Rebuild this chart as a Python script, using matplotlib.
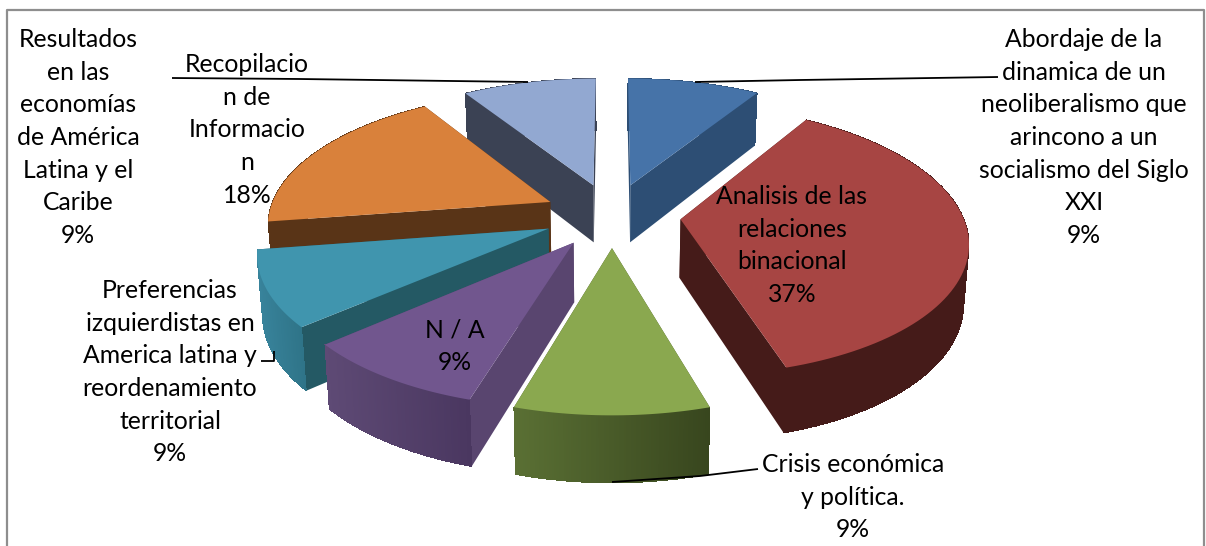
import numpy as np
import matplotlib
matplotlib.use('Agg')
import matplotlib.pyplot as plt
from matplotlib.colors import to_rgb

# slices clockwise from 12 o'clock
labels = ['Abordaje de la\ndinamica de un\nneoliberalismo que\narincono a un\nsocialismo del Siglo\nXXI',
          'Analisis de las\nrelaciones\nbinacional',
          'Crisis económica\ny política.',
          'N / A',
          'Preferencias\nizquierdistas en\nAmerica latina y\nreordenamiento\nterritorial',
          'Recopilacio\nn de\nInformacio\nn',
          'Resultados\nen las\neconomías\nde América\nLatina y el\nCaribe']
# percentages, they round to the printed labels
values = [8.9, 36.51, 9.19, 9.0, 9.0, 18.4, 9.0]

top_colors = ['#4673A8', '#A74543', '#8AA84F', '#71568E', '#4095AE', '#D9813B', '#92A8D1']
wall_colors = ['#2D4E74', '#451B19', '#48582A', '#59456F', '#245964', '#593417', '#3B4254']
side_left = ['#2D4E74', '#451B19', '#5A7034', '#5E4A75', '#38839B', '#593417', '#3B4254']
side_right = ['#2D4E74', '#451B19', '#38461E', '#4A3760', '#2F7488', '#593417', '#3B4254']

# label centres in pixels (x, y of first line top)
label_x = [1084, 792, 853, 455, 170, 247, 78]
label_y = [28, 185, 453, 318, 279, 53, 28]

# leader lines in pixels
leaders = [([695, 800, 998], [82, 80, 77]),
           ([612, 700, 758], [482, 476, 469]),
           ([528, 300, 172], [82, 79, 78]),
           ([261, 274, 274], [361, 361, 351])]

# perspective model of the pie, tuned by eye against the picture
cx, cy = 612, 215
rx, ry = 282, 131
persp = 0.15
depth = 58.4
explode = 0.244


def project(u, v, drop=0.0):
    w = 1 + persp * v
    x = rx * u / w * (1 - 0.015 * drop)
    return cx + x, cy - ry * v / w + drop * depth / w ** 0.7


def side_quad(u, v, color, order):
    # outline first so the seams between the strips stay hidden
    x0, y0 = project(u, v)
    x1, y1 = project(u, v, 1)
    base = color[len(color) // 2] if isinstance(color, list) else color
    ax.fill(np.r_[x0, x1[::-1]], np.r_[y0, y1[::-1]], color=base, lw=0, zorder=order)
    if not isinstance(color, list):
        return
    for k in range(len(x0) - 1):
        ax.fill([x0[k], x0[k + 1], x1[k + 1], x1[k]], [y0[k], y0[k + 1], y1[k + 1], y1[k]],
                facecolor=color[k], edgecolor='none', lw=0, antialiased=False, zorder=order)


fig = plt.figure(figsize=(12.06, 5.46), dpi=100)
ax = fig.add_axes([0, 0, 1, 1])
ax.set_xlim(0, 1206)
ax.set_ylim(546, 0)
ax.axis('off')

plt.rcParams['font.family'] = ['Lato', 'DejaVu Sans']

# chart frame, open at the bottom edge
ax.plot([6.5, 6.5, 1204, 1204], [546, 10, 10, 546], color='#8E8E8E', lw=1.6, zorder=0)

edges = np.cumsum([0] + values) / sum(values) * 2 * np.pi
mids = (edges[:-1] + edges[1:]) / 2

# back slices first so the nearer ones cover them
for order, i in enumerate(np.argsort(-np.cos(mids))):
    order = order + 1
    a = np.linspace(edges[i], edges[i + 1], 80)
    ou, ov = explode * np.sin(mids[i]), explode * np.cos(mids[i])
    u, v = ou + np.sin(a), ov + np.cos(a)

    side_quad(np.array([ou, u[0]]), np.array([ov, v[0]]), wall_colors[i], order)
    side_quad(np.array([ou, u[-1]]), np.array([ov, v[-1]]), wall_colors[i], order)

    xs = project(u, v)[0]
    t = (xs - xs.min()) / (xs.max() - xs.min())
    c0, c1 = np.array(to_rgb(side_left[i])), np.array(to_rgb(side_right[i]))
    side_quad(u, v, [tuple(c0 + (c1 - c0) * k) for k in t[:-1]], order)

    tx, ty = project(np.r_[ou, u], np.r_[ov, v])
    ax.fill(tx, ty, color=top_colors[i], lw=0, zorder=order)

for xs, ys in leaders:
    ax.plot(xs, ys, color='black', lw=1.3, zorder=20, solid_capstyle='butt')

for i in range(len(labels)):
    ax.text(label_x[i], label_y[i], labels[i] + '\n%d%%' % round(values[i]), ha='center', va='top',
            multialignment='center', fontsize=17.8, linespacing=1.51, color='black', zorder=30)

fig.savefig('out.png', dpi=100)
